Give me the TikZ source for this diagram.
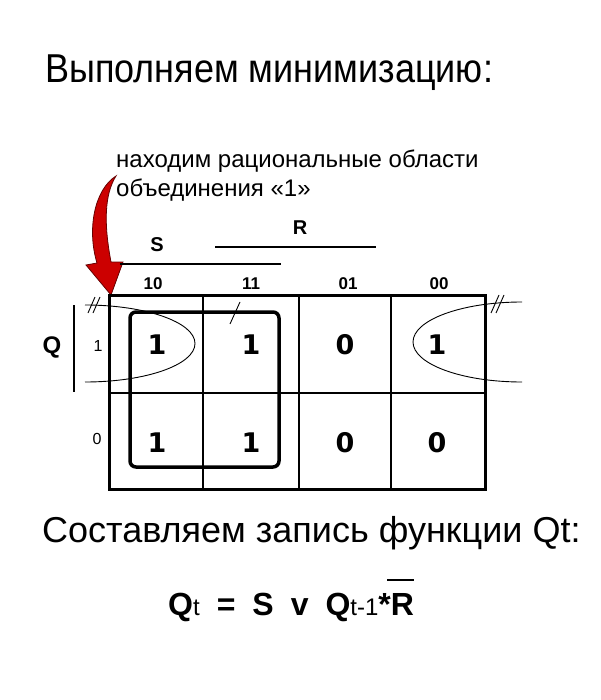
\documentclass[tikz,border=0pt]{standalone}
\usepackage{fontspec}
\setmainfont{Liberation Sans}
\newfontfamily\digitfont{DejaVu Sans}
\begin{document}
\begin{tikzpicture}[x=1pt,y=-1pt,
  txt/.style={inner sep=0pt, anchor=base west},
  lab/.style={inner sep=0pt, font=\fontsize{17}{19}\selectfont\bfseries},
  rowlab/.style={inner sep=0pt, font=\fontsize{16}{18}\selectfont},
  cell/.style={inner sep=0pt, font=\fontsize{27}{30}\selectfont\digitfont\bfseries},
  thin/.style={line width=1.3pt},
  hair/.style={line width=0.9pt}]
\useasboundingbox (0,0) rectangle (600,700);
\fill[white] (0,0) rectangle (600,700);
% texts
\node[txt, font=\fontsize{36}{40}\selectfont] (title) at (45,83) {\scalebox{1}[1.12]{Выполняем минимизацию:}};
\node[txt, font=\fontsize{24}{26}\selectfont] (note1) at (116,168) {находим рациональные области};
\node[txt, font=\fontsize{24}{26}\selectfont] (note2) at (116,197) {объединения «1»};
\node[txt, font=\fontsize{36}{40}\selectfont] (comp) at (42,542) {Составляем запись функции Qt:};
% formula
\node[txt, font=\fontsize{32}{36}\selectfont\bfseries] (formula) at (168,615)
  {Q{\fontsize{24}{26}\selectfont\mdseries t}\hspace{17pt}=\hspace{17pt}S\hspace{17pt}v\hspace{17pt}Q{\fontsize{24}{26}\selectfont\mdseries t-1}*R};
\draw[thin] ([xshift=-27pt,yshift=35pt]formula.base east) -- ([yshift=35pt]formula.base east);
% red arrow
\fill[red!80!black, draw=red!40!black, line width=0.8pt]
  (116,176) .. controls (94,190) and (87,230) .. (97,263)
  -- (86,265) -- (111,295) -- (123,262) -- (111,262)
  .. controls (104,225) and (104,195) .. (116,176) -- cycle;
% S and R
\node[inner sep=0pt, font=\fontsize{20}{22}\selectfont\bfseries] (S) at (157,245) {S};
\node[inner sep=0pt, font=\fontsize{20}{22}\selectfont\bfseries] (R) at (300,228) {R};
\draw[thin] (120,264) -- (281,264);
\draw[thin] (215,247) -- (376,247);
% column labels
\node[lab] (c10) at (153,284) {10};
\node[lab] (c11) at (251,284) {11};
\node[lab] (c01) at (348,284) {01};
\node[lab] (c00) at (439,284) {00};
% row labels
\node[inner sep=0pt, font=\fontsize{24}{26}\selectfont\bfseries] (Q) at (52,347) {Q};
\draw[line width=1.2pt] (74,305) -- (74,392);
\node[rowlab] (r1) at (98,346) {1};
\node[rowlab] (r0) at (97,439) {0};
% grid
\draw[thin] (203,295) -- (203,489);
\draw[thin] (299,295) -- (299,489);
\draw[thin] (391,295) -- (391,489);
\draw[thin] (109,393) -- (485,393);
\draw[line width=3pt] (109,295) rectangle (485,489);
% cells
\node[cell] (a1) at (157,345) {1};
\node[cell] (a2) at (251,345) {1};
\node[cell] (a3) at (345,345) {0};
\node[cell] (a4) at (437,345) {1};
\node[cell] (b1) at (157,443) {1};
\node[cell] (b2) at (251,443) {1};
\node[cell] (b3) at (345,443) {0};
\node[cell] (b4) at (437,443) {0};
% group
\draw[line width=3.5pt, rounded corners=6pt] (130,312) rectangle (279,467);
% ellipses
\draw[hair] (85,305) arc[start angle=-90, end angle=90, x radius=110, y radius=38.5];
\draw[hair] (522,302) arc[start angle=-90, end angle=-270, x radius=109, y radius=40];
% break marks
\draw[hair] (88,313) -- (95,297);
\draw[hair] (93,313) -- (100,297);
\draw[hair] (491,313) -- (499,295);
\draw[hair] (496,313) -- (504,295);
\draw[hair] (230,324) -- (240,302);
\end{tikzpicture}
\end{document}
